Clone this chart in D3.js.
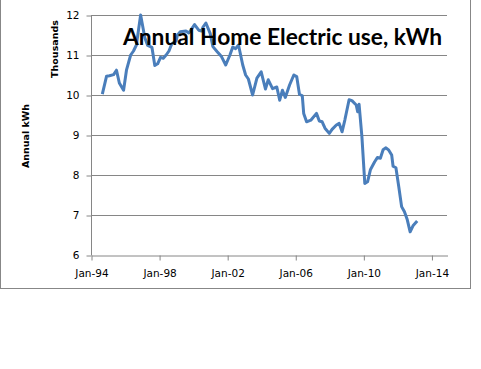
<!DOCTYPE html>
<html>
<head>
<meta charset="utf-8">
<script src="https://cdn.jsdelivr.net/npm/d3@7"></script>
<style>
	body{margin:0;background:#fff;}
	svg{display:block;}
</style>
</head>
<body>
<div id="chart"></div>
<script>
// readings, monthly dates, annual kWh in thousands
var months=["1994-09","1994-12","1995-02","1995-05","1995-07","1995-09","1995-12",
	"1996-02","1996-05","1996-07","1996-09","1996-12","1997-03","1997-05","1997-08","1997-10","1997-12",
	"1998-02","1998-04","1998-06","1998-08","1998-10","1999-01","1999-02","1999-04","1999-08","1999-10",
	"2000-02","2000-05","2000-07","2000-08","2000-10","2001-01","2001-03","2001-06","2001-09","2001-12",
	"2002-03","2002-05","2002-07","2002-09","2002-12","2003-02","2003-04","2003-07","2003-10",
	"2004-01","2004-04","2004-06","2004-09","2004-12","2005-02","2005-04","2005-06","2005-09","2005-12",
	"2006-02","2006-04","2006-06","2006-07","2006-09","2006-12","2007-04","2007-06","2007-08","2007-10",
	"2008-01","2008-03","2008-06","2008-08","2008-10","2008-12","2009-03","2009-05","2009-08","2009-09","2009-10","2009-12",
	"2010-02","2010-04","2010-06","2010-09","2010-11","2011-01","2011-03","2011-05","2011-07","2011-09","2011-10","2011-12",
	"2012-02","2012-04","2012-06","2012-08","2012-10","2012-12","2013-03"]
var usage=[10.02,10.47,10.48,10.51,10.62,10.3,10.12,
	10.62,11.0,11.1,11.25,12.0,11.43,11.24,11.19,10.74,10.78,
	10.94,10.92,11.0,11.1,11.28,11.35,11.5,11.58,11.6,11.55,
	11.76,11.62,11.6,11.7,11.8,11.54,11.21,11.08,10.96,10.75,
	11.0,11.2,11.16,11.25,10.75,10.5,10.4,10.0,10.42,
	10.58,10.15,10.38,10.16,10.2,9.87,10.12,9.94,10.25,10.5,
	10.46,10.02,9.98,9.54,9.33,9.37,9.54,9.35,9.33,9.17,
	9.04,9.14,9.25,9.29,9.08,9.38,9.88,9.86,9.75,9.58,9.77,8.96,
	7.79,7.83,8.13,8.33,8.44,8.42,8.63,8.68,8.62,8.5,8.22,8.18,
	7.7,7.21,7.08,6.88,6.58,6.73,6.85]
var yTicks=[6,7,8,9,10,11,12]
var xTickYears=[1994,1998,2002,2006,2010,2014]

var W=481, H=369
var parse=d3.timeParse("%Y-%m")
var data=months.map(function(m,i){return {date:parse(m),value:usage[i]}})

var svg=d3.select("#chart").append("svg")
	.attr("width",W)
	.attr("height",H)

// outer chart frame
svg.append("rect")
	.attr("x",0.5).attr("y",-2)
	.attr("width",470).attr("height",290.5)
	.attr("fill","#fff")
	.attr("stroke","#878787")

var xScale=d3.scaleTime()
	.domain([new Date(1994,0,1),new Date(2014,11,1)])
	.range([91,447])
var yScale=d3.scaleLinear()
	.domain([6,12])
	.range([255,15])

// gridlines
svg.append("g").selectAll("line")
	.data(yTicks.filter(function(d){return d>6}))
	.enter().append("line")
	.attr("x1",91).attr("x2",447)
	.attr("y1",function(d){return Math.round(yScale(d))+0.5})
	.attr("y2",function(d){return Math.round(yScale(d))+0.5})
	.attr("stroke","#868686")

var yAxis=svg.append("g")
	.attr("transform","translate(91.5,0.5)")
	.call(d3.axisLeft(yScale).tickValues(yTicks).tickFormat(d3.format("d")).tickSize(5).tickPadding(7))
var xAxis=svg.append("g")
	.attr("transform","translate(0.5,"+(Math.round(yScale(6))+0.5)+")")
	.call(d3.axisBottom(xScale)
		.tickValues(xTickYears.map(function(y){return new Date(y,0,1)}))
		.tickFormat(d3.timeFormat("Jan-%y"))
		.tickSize(5).tickPadding(9).tickSizeOuter(0))
svg.selectAll(".domain, .tick line").attr("stroke","#868686")
svg.selectAll(".tick text")
	.attr("font-family","DejaVu Sans, Verdana, sans-serif")
	.attr("font-size","10.5px")
	.attr("fill","#000")
// y axis line spans plot only (no outer ticks)
yAxis.select(".domain").attr("d","M0,"+yScale(12)+"V"+yScale(6))

var line=d3.line()
	.x(function(d){return xScale(d.date)})
	.y(function(d){return yScale(d.value)})

svg.append("path")
	.datum(data)
	.attr("d",line)
	.attr("fill","none")
	.attr("stroke","#4a7ebb")
	.attr("stroke-width",3)
	.attr("stroke-linejoin","round")

svg.append("text")
	.attr("transform","translate(58,49) rotate(-90)")
	.attr("text-anchor","middle")
	.attr("font-family","DejaVu Sans, Verdana, sans-serif")
	.attr("font-weight","bold")
	.attr("font-size","9.5px")
	.text("Thousands")

svg.append("text")
	.attr("transform","translate(29,136) rotate(-90)")
	.attr("text-anchor","middle")
	.attr("font-family","DejaVu Sans, Verdana, sans-serif")
	.attr("font-weight","bold")
	.attr("font-size","9.5px")
	.text("Annual kWh")

var title=svg.append("text")
	.attr("x",123).attr("y",45)
	.attr("font-family","Lato, Carlito, sans-serif")
	.attr("font-weight","bold")
	.attr("font-size","22px")
	.attr("fill","#000")
	.text("Annual Home Electric use, kWh")
// fit the title to the width it has in the picture
var tw=title.node().getComputedTextLength()
title.attr("font-size",(22*319/tw).toFixed(2)+"px")
</script>
</body>
</html>
